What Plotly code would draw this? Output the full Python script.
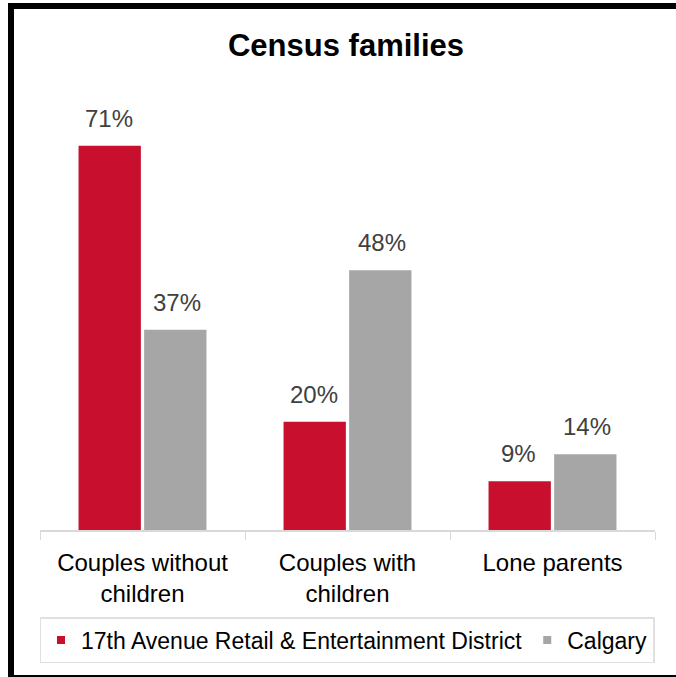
import plotly.graph_objects as go

categories = ["Couples without<br>children", "Couples with<br>children", "Lone parents"]
district = [71, 20, 9]
calgary = [37, 48, 14]
series_names = ["17th Avenue Retail & Entertainment District", "Calgary"]

RED = "#C8102E"
GREY = "#A6A6A6"
FONT = "Liberation Sans, Arial, sans-serif"

# plot area: x 40..655, y 97..530
L, R, T, B = 40, 21, 97, 147
W, H = 676, 677
pw, ph = W - L - R, H - T - B


def px_x(x):
    return (x - L) / pw


def px_y(y):
    return (H - B - y) / ph


fig = go.Figure()
annotations = []
for i, (name, vals, color) in enumerate(
    [(series_names[0], district, RED), (series_names[1], calgary, GREY)]
):
    fig.add_trace(
        go.Bar(
            x=categories,
            y=vals,
            name=name,
            marker=dict(color=color, line=dict(width=0)),
            showlegend=False,
        )
    )
    # legend entry with a small square marker
    fig.add_trace(
        go.Scatter(
            x=[None],
            y=[None],
            mode="markers",
            name=name,
            marker=dict(symbol="square", size=8, color=color),
        )
    )
    shift = -34 if i == 0 else 34
    for cat, v in zip(categories, vals):
        annotations.append(
            dict(
                x=cat,
                y=v,
                text=f"{v}%",
                showarrow=False,
                xshift=shift,
                yshift=12,
                yanchor="bottom",
                font=dict(size=24, color="#404040", family=FONT),
            )
        )

fig.update_layout(
    width=W,
    height=H,
    margin=dict(l=L, r=R, t=T, b=B),
    paper_bgcolor="white",
    plot_bgcolor="white",
    font=dict(family=FONT, size=23, color="#000000"),
    barmode="group",
    bargap=0.36,
    bargroupgap=0.05,
    title=dict(
        text="<b>Census families</b>",
        x=346 / W,
        xanchor="center",
        y=1 - 45 / H,
        yanchor="middle",
        font=dict(size=31, color="#000000", family=FONT),
    ),
    showlegend=True,
    legend=dict(
        orientation="h",
        x=px_x(347),
        xanchor="center",
        y=px_y(640),
        yanchor="middle",
        bordercolor="#E0E0E0",
        borderwidth=1.5,
        font=dict(size=23, color="#000000"),
        itemwidth=30,
    ),
    xaxis=dict(
        showline=True,
        linecolor="#D9D9D9",
        linewidth=1.5,
        ticks="outside",
        tickson="boundaries",
        ticklen=8,
        tickcolor="#D9D9D9",
        tickfont=dict(size=24, color="#000000"),
        ticklabelstandoff=10,
        showgrid=False,
    ),
    yaxis=dict(
        range=[0, 80],
        visible=False,
        showgrid=False,
    ),
    annotations=annotations,
    shapes=[
        dict(
            type="rect",
            xref="paper",
            yref="paper",
            x0=px_x(11),
            x1=px_x(740),
            y0=px_y(678),
            y1=px_y(6),
            line=dict(color="black", width=6),
        )
    ],
)

fig.write_html(
    "out.html",
    config={"displayModeBar": False},
    post_script="document.body.style.margin='0';",
)
